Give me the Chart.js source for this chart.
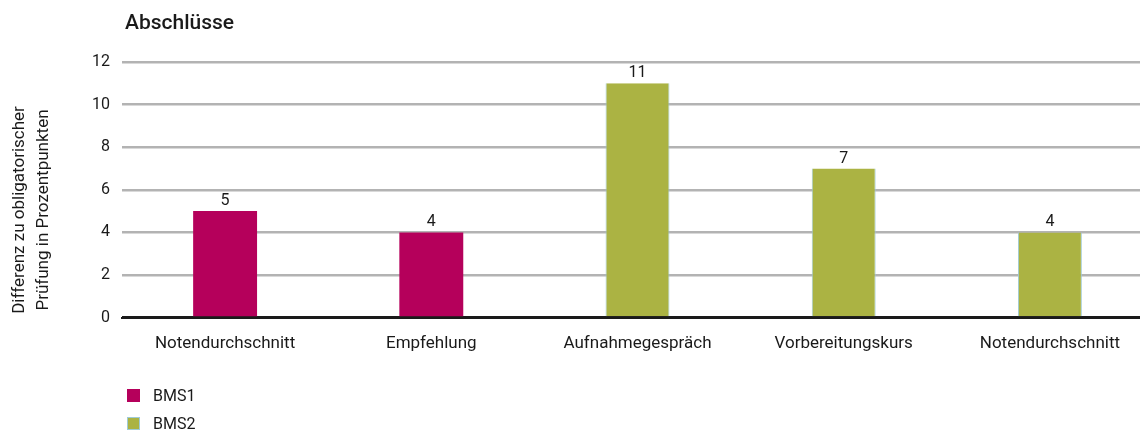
<!DOCTYPE html>
<html lang="de">
<head>
<meta charset="utf-8">
<script src="https://cdn.jsdelivr.net/npm/chart.js@4.4.0/dist/chart.umd.min.js"></script>
<style>
  html, body { margin: 0; padding: 0; background: #fff; overflow: hidden; }
  #wrap { position: relative; width: 1160px; height: 430px; }
  #titel {
    position: absolute; left: 125px; top: 10px;
    font: 500 21px Roboto, sans-serif; color: #1a1a1a;
  }
  #legende {
    position: absolute; left: 127px; top: 381px;
    font: 16px Roboto, sans-serif; color: #1a1a1a;
  }
  .eintrag { display: flex; align-items: center; height: 28px; }
  .box { width: 13px; height: 13px; margin-right: 13px; box-sizing: border-box; }
</style>
</head>
<body>
<div id="wrap">
  <div id="titel">Abschlüsse</div>
  <canvas id="chart" width="1160" height="430"></canvas>
  <div id="legende"></div>
</div>
<script>
// Daten
const kategorien = ["Notendurchschnitt", "Empfehlung", "Aufnahmegespräch", "Vorbereitungskurs", "Notendurchschnitt"];
const bms1 = [5, 4, null, null, null];
const bms2 = [null, null, 11, 7, 4];
const yTicks = [0, 2, 4, 6, 8, 10, 12];
const achsenTitel = ["Differenz zu obligatorischer", "Prüfung in Prozentpunkten"];

const farben = { BMS1: "#b5005b", BMS2: "#abb343" };
const rahmen = { BMS1: "#b5005b", BMS2: "#9fcbd6" };

// Werte ueber den Balken
const werteLabels = {
  id: "werteLabels",
  afterDatasetsDraw(chart) {
    const ctx = chart.ctx;
    ctx.save();
    ctx.font = "16px Roboto, sans-serif";
    ctx.fillStyle = "#1a1a1a";
    ctx.textAlign = "center";
    ctx.textBaseline = "bottom";
    chart.data.datasets.forEach((ds, i) => {
      chart.getDatasetMeta(i).data.forEach((bar, j) => {
        if (ds.data[j] == null) return;
        ctx.fillText(ds.data[j], bar.x, bar.y - 2);
      });
    });
    ctx.restore();
  },
};

// Achsentitel links, zweizeilig und gedreht
const achsenTitelPlugin = {
  id: "achsenTitel",
  afterDraw(chart) {
    const ctx = chart.ctx;
    ctx.save();
    ctx.translate(0, 210);
    ctx.rotate(-Math.PI / 2);
    ctx.font = "17px Roboto, sans-serif";
    ctx.fillStyle = "#1a1a1a";
    ctx.textAlign = "center";
    ctx.textBaseline = "middle";
    ctx.fillText(achsenTitel[0], 0, 20);
    ctx.fillText(achsenTitel[1], 0, 44);
    ctx.restore();
  },
};

new Chart(document.getElementById("chart").getContext("2d"), {
  type: "bar",
  data: {
    labels: kategorien,
    datasets: [
      { label: "BMS1", data: bms1, backgroundColor: farben.BMS1 },
      {
        label: "BMS2",
        data: bms2,
        backgroundColor: farben.BMS2,
        borderColor: rahmen.BMS2,
        borderWidth: { left: 1, right: 1, top: 0, bottom: 0 },
      },
    ],
  },
  options: {
    responsive: false,
    animation: false,
    grouped: false,
    categoryPercentage: 1,
    barPercentage: 0.31,
    layout: { padding: { top: 62, right: 7, bottom: 68, left: 0 } },
    plugins: {
      legend: { display: false },
      tooltip: { enabled: false },
    },
    scales: {
      x: {
        grid: { display: false },
        border: { color: "#1a1a1a", width: 2 },
        ticks: { font: { family: "Roboto", size: 17 }, color: "#1a1a1a", padding: 8 },
      },
      y: {
        min: 0,
        max: 12,
        afterBuildTicks: (axis) => { axis.ticks = yTicks.map((v) => ({ value: v })); },
        afterFit: (axis) => { axis.width = 122; },
        grid: {
          color: (c) => (c.tick.value === 0 ? "#1a1a1a" : "#b3b3b3"),
          lineWidth: 2.5,
          drawTicks: false,
        },
        border: { display: false },
        ticks: { font: { family: "Roboto", size: 16 }, color: "#1a1a1a", padding: 12 },
      },
    },
  },
  plugins: [werteLabels, achsenTitelPlugin],
});

// Legende untereinander
const legende = document.getElementById("legende");
Object.keys(farben).forEach((name) => {
  const div = document.createElement("div");
  div.className = "eintrag";
  div.innerHTML = `<span class="box" style="background:${farben[name]};border:1px solid ${rahmen[name]}"></span>${name}`;
  legende.appendChild(div);
});
</script>
</body>
</html>
